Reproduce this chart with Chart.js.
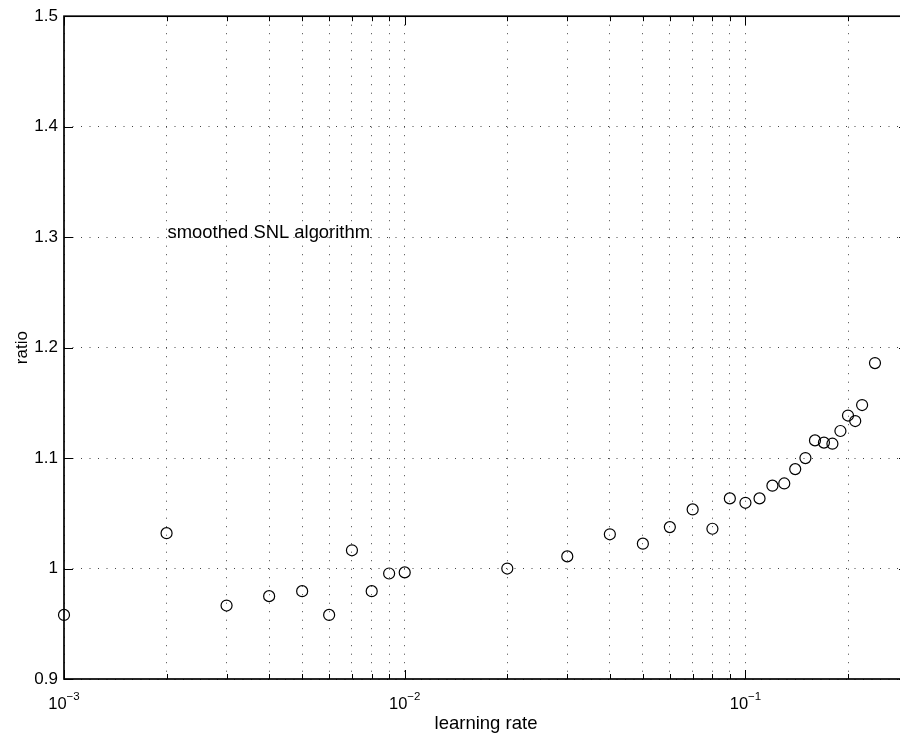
<!DOCTYPE html>
<html>
<head>
<meta charset="utf-8">
<script src="https://cdn.jsdelivr.net/npm/chart.js@4"></script>
<style>
  html, body { margin: 0; padding: 0; background: #fff; }
  #wrap { width: 900px; height: 739px; overflow: hidden; position: relative; }
  canvas { display: block; }
</style>
</head>
<body>
<div id="wrap"><canvas id="c" width="920" height="739"></canvas></div>
<script>
// ---- data ----
const learningRates = [0.001, 0.002, 0.003, 0.004, 0.005, 0.006, 0.007, 0.008, 0.009,
  0.01, 0.02, 0.03, 0.04, 0.05, 0.06, 0.07, 0.08, 0.09,
  0.1, 0.11, 0.12, 0.13, 0.14, 0.15, 0.16, 0.17, 0.18, 0.19, 0.2, 0.21, 0.22, 0.24];
const ratios = [0.958, 1.032, 0.9665, 0.975, 0.9795, 0.958, 1.0165, 0.9795, 0.9955,
  0.9965, 1.000, 1.011, 1.031, 1.0225, 1.0375, 1.0535, 1.036, 1.0635,
  1.0595, 1.0635, 1.075, 1.077, 1.090, 1.100, 1.116, 1.114, 1.113, 1.1245, 1.1385, 1.1335, 1.148, 1.186];
const xGridValues = [0.001, 0.002, 0.003, 0.004, 0.005, 0.006, 0.007, 0.008, 0.009,
  0.01, 0.02, 0.03, 0.04, 0.05, 0.06, 0.07, 0.08, 0.09, 0.1, 0.2, 0.3];
const xMajorValues = [0.001, 0.01, 0.1];
const xMajorBase = '10';
const xMajorExponents = ['\u22123', '\u22122', '\u22121'];
const yTickValues = [0.9, 1.0, 1.1, 1.2, 1.3, 1.4, 1.5];
const xTitle = 'learning rate';
const yTitle = 'ratio';
const annotText = 'smoothed SNL algorithm';
const annotX = 0.002;
const annotY = 1.3;

const FONT = "'Liberation Sans', Arial, Helvetica, sans-serif";

const matlabPlugin = {
  id: 'matlab',
  afterDraw(chart) {
    const { ctx, chartArea: a, scales: { x, y } } = chart;
    ctx.save();
    // inward tick marks
    ctx.strokeStyle = '#000';
    ctx.lineWidth = 1;
    ctx.setLineDash([]);
    ctx.beginPath();
    xGridValues.forEach(v => {
      const px = Math.round(x.getPixelForValue(v)) + 0.5;
      const len = xMajorValues.includes(v) ? 9 : 5;
      ctx.moveTo(px, a.bottom); ctx.lineTo(px, a.bottom - len);
      ctx.moveTo(px, a.top); ctx.lineTo(px, a.top + len);
    });
    yTickValues.forEach(v => {
      const py = Math.round(y.getPixelForValue(v)) + 0.5;
      ctx.moveTo(a.left, py); ctx.lineTo(a.left + 9, py);
      ctx.moveTo(a.right, py); ctx.lineTo(a.right - 9, py);
    });
    ctx.stroke();
    // axes box
    ctx.lineWidth = 1.7;
    ctx.strokeStyle = '#000';
    ctx.strokeRect(a.left, a.top, a.right - a.left, a.bottom - a.top);
    // x tick labels (10 with superscript exponent)
    ctx.fillStyle = '#000';
    ctx.textAlign = 'left';
    ctx.textBaseline = 'alphabetic';
    xMajorValues.forEach((v, i) => {
      const exp = xMajorExponents[i];
      ctx.font = '16.5px ' + FONT;
      const wb = ctx.measureText(xMajorBase).width;
      ctx.font = '11.5px ' + FONT;
      const we = ctx.measureText(exp).width;
      const cx = x.getPixelForValue(v);
      const x0 = cx - (wb + we) / 2;
      ctx.font = '16.5px ' + FONT;
      ctx.fillText(xMajorBase, x0, a.bottom + 29.5);
      ctx.font = '11.5px ' + FONT;
      ctx.fillText(exp, x0 + wb, a.bottom + 20.5);
    });
    // annotation
    ctx.font = '18.4px ' + FONT;
    ctx.fillText(annotText, x.getPixelForValue(annotX) + 1, y.getPixelForValue(annotY) + 0.5);
    ctx.restore();
  }
};

new Chart(document.getElementById('c'), {
  type: 'scatter',
  data: {
    datasets: [{
      data: learningRates.map((lr, i) => ({ x: lr, y: ratios[i] })),
      pointStyle: 'circle',
      pointRadius: 5.5,
      pointHoverRadius: 5.5,
      borderColor: '#000',
      backgroundColor: 'rgba(0,0,0,0)',
      borderWidth: 1.2,
      showLine: false,
      clip: false
    }]
  },
  options: {
    responsive: false,
    animation: false,
    devicePixelRatio: 1,
    layout: { padding: { left: 0, top: 15, right: 12, bottom: 0 } },
    plugins: { legend: { display: false }, tooltip: { enabled: false } },
    scales: {
      x: {
        type: 'logarithmic',
        min: 0.001,
        max: 0.3,
        afterBuildTicks(scale) { scale.ticks = xGridValues.map(v => ({ value: v })); },
        afterFit(scale) { scale.height = 60; },
        ticks: { display: false, autoSkip: false },
        grid: { color: '#444', lineWidth: 1, drawTicks: false },
        border: { display: false, dash: [1, 7.5] },
        title: {
          display: true, text: xTitle, color: '#000',
          font: { family: FONT, size: 18.5, lineHeight: 1.2 },
          padding: { top: 0, bottom: 4 }
        }
      },
      y: {
        type: 'linear',
        min: 0.9,
        max: 1.5,
        afterBuildTicks(scale) { scale.ticks = yTickValues.map(v => ({ value: v })); },
        afterFit(scale) { scale.width = 64; },
        ticks: {
          color: '#000', padding: 6,
          font: { family: FONT, size: 17 },
          callback: v => String(+Number(v).toFixed(1))
        },
        grid: { color: '#444', lineWidth: 1, drawTicks: false },
        border: { display: false, dash: [1, 7.5] },
        title: {
          display: true, text: yTitle, color: '#000',
          font: { family: FONT, size: 17, lineHeight: 1.2 },
          padding: { top: 12, bottom: 0 }
        }
      }
    }
  },
  plugins: [matlabPlugin]
});
</script>
</body>
</html>
